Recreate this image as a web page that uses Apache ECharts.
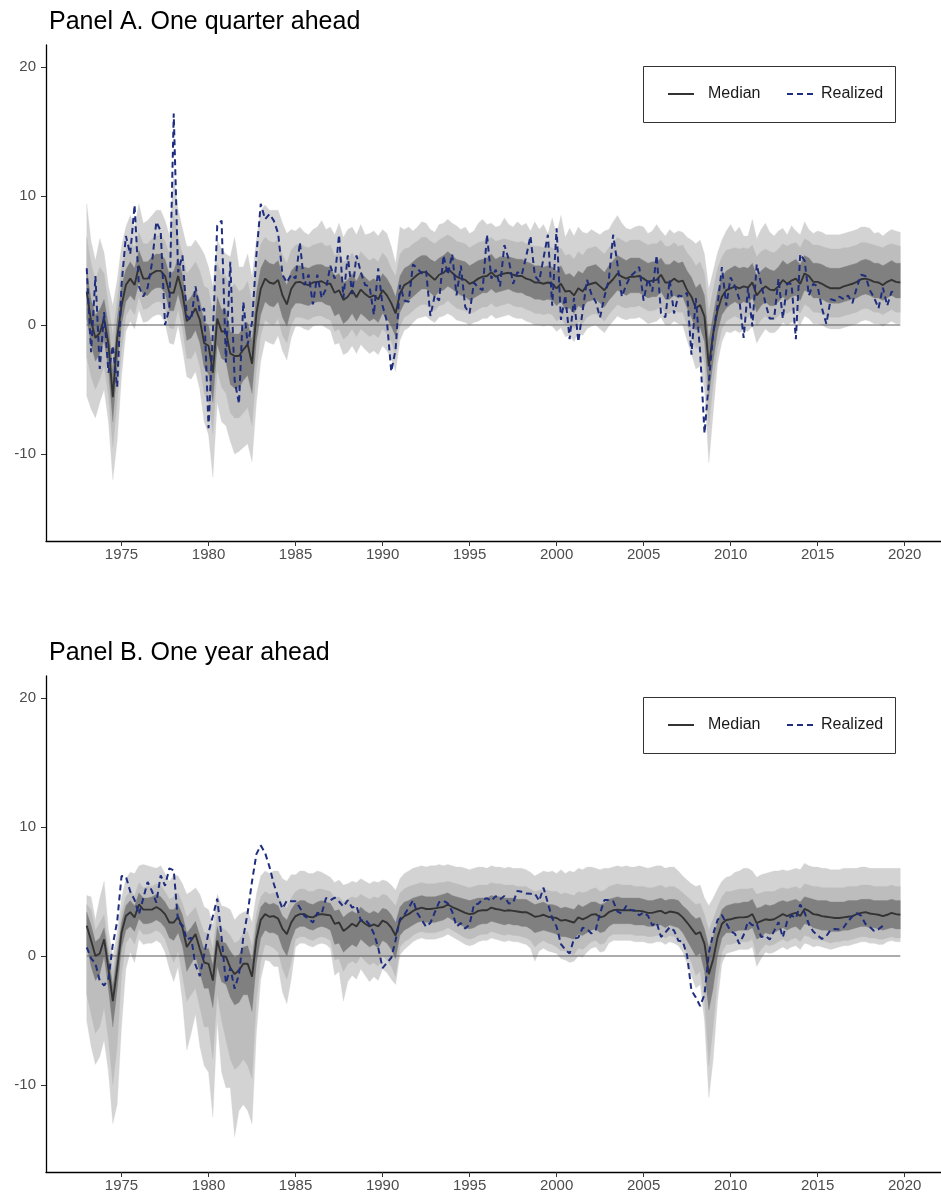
<!DOCTYPE html>
<html><head><meta charset="utf-8">
<script src="https://cdn.jsdelivr.net/npm/echarts@6/dist/echarts.min.js"></script>
<style>html,body{margin:0;padding:0;background:#fff}#c{width:941px;height:1199px}</style>
</head><body><div id="c"></div>
<script>
// ---------- data (quarterly, 1973Q1 .. 2019Q4) ----------
const startYear = 1973;
const nQuarters = 188;
const xTicks = [1975,1980,1985,1990,1995,2000,2005,2010,2015,2020];
const yTicks = [-10,0,10,20];
const zeroLine = [0, 0];

// Panel A: one quarter ahead
const medianA = [2.6,0.3,-1.0,-0.6, 0.5,-1.5,-5.6,-1.0, 1.5,3.1,3.6,3.1, 4.6,3.6,3.6,4.0, 4.2,4.2,3.8,2.5, 2.5,3.8,2.5,0.3, 0.7,1.3,0.4,-1.4, -1.6,-3.7,0.5,-0.5, -0.5,-2.2,-2.4,-2.4, -1.9,-1.5,-3.0,0.9,
 2.8,3.6,3.3,3.2, 3.5,2.3,1.6,2.8, 3.3,3.35,3.2,3.1, 3.3,3.35,3.4,3.2, 3.2,2.5,2.7,1.95, 2.2,2.7,2.15,2.75, 2.4,2.15,2.3,2.0, 2.7,2.3,1.7,0.9, 2.45,3.1,3.3,3.6, 3.9,4.1,4.1,3.8,
 3.5,3.9,4.05,4.4, 4.05,3.75,3.6,3.5, 3.2,3.35,3.6,3.75, 3.8,4.1,3.75,3.9, 4.0,4.05,3.9,3.8, 3.8,3.6,3.5,3.3, 3.3,3.2,3.3,3.2, 2.85,3.2,2.6,2.65, 2.3,2.85,2.6,3.1, 3.2,3.3,3.0,2.7,
 3.2,3.55,4.0,3.75, 3.6,3.75,3.75,3.8, 3.6,3.35,3.45,3.5, 3.9,3.3,3.3,3.6, 3.35,3.45,2.7,2.2, 1.3,1.55,0.65,-3.2, -0.65,1.15,2.2,2.7, 2.85,3.0,2.85,3.0, 2.9,3.3,2.3,2.7, 3.0,2.75,2.7,3.0,
 3.5,3.2,3.45,3.6, 3.2,4.0,3.8,3.35, 3.35,3.2,3.0,2.85, 2.85,2.85,3.0,3.1, 3.2,3.35,3.55,3.6, 3.5,3.35,3.3,3.1, 3.35,3.5,3.35,3.3];
const realizedA = [4.4,-2.1,3.8, -3.4,1.0,-3.7,-1.6, -4.8,3.1,6.9,5.5, 9.3,3.0,2.2,2.9, 4.8,8.0,7.3,0.0, 1.3,16.4,4.1,5.4, 0.7,0.4,3.0,1.0, 1.3,-8.0,-0.5,7.7, 8.1,-2.9,4.9,-4.3, -6.1,1.8,-1.5,0.2,
 5.4,9.4,8.2,8.6, 8.1,7.1,3.9,3.3, 3.9,3.6,6.4,3.1, 3.9,1.6,3.9,2.1, 2.8,4.6,3.6,7.0, 2.1,5.4,2.4,5.4, 4.1,3.1,3.0,0.8, 4.4,1.5,0.3,-3.6, -1.9,3.1,1.9,1.8, 4.7,4.4,4.0,4.2,
 0.7,2.3,1.9,5.4, 3.9,5.5,2.3,4.6, 1.4,0.9,3.3,2.9, 2.7,7.0,3.6,4.3, 3.0,6.2,5.1,3.2, 4.1,3.9,5.3,6.9, 3.8,3.4,5.2,7.0, 1.5,7.5,0.4,2.3, -1.1,2.1,-1.3,1.1, 3.5,2.4,1.8,0.6,
 2.2,3.5,7.0,4.7, 2.2,3.1,3.8,4.1, 4.5,1.9,3.6,2.6, 5.4,0.9,0.6,3.5, 0.9,2.3,2.2,2.5, -2.3,2.1,-2.1,-8.4, -4.4,-0.6,1.5,4.5, 1.5,3.7,3.0,2.0, -1.0,2.9,-0.1,4.7, 3.2,1.7,0.5,0.5,
 3.6,0.5,3.2,3.2, -1.1,5.5,5.0,2.3, 3.2,3.0,1.3,0.1, 2.0,1.9,2.2,2.0, 2.3,1.7,2.9,3.9, 3.8,2.7,2.1,1.3, 2.9,1.5,2.6,2.4];
const outerHiA = [9.4,6.5,5.0,6.7, 5.6,3.0,1.5,3.5, 6.1,7.6,8.5,7.6, 9.4,7.9,8.1,8.5, 8.9,8.9,8.1,7.0, 11.5,9.0,7.5,6.1, 6.1,6.6,6.1,5.5, 4.5,3.0,6.6,5.9, 5.5,5.3,6.8,4.5, 4.5,5.5,3.7,6.6,
 8.9,9.3,8.9,8.9, 8.9,7.9,7.1,7.4, 7.3,7.6,7.2,7.0, 7.4,7.6,8.1,7.4, 7.6,7.0,7.9,6.8, 7.4,7.6,7.0,7.8, 7.0,7.1,7.3,6.9, 7.4,7.1,6.1,4.8, 7.6,7.4,7.6,7.3, 7.6,8.0,7.9,7.4,
 7.2,7.8,7.9,8.2, 7.9,7.7,7.4,7.6, 7.1,7.3,7.9,8.2, 7.8,7.9,7.6,7.7, 8.3,7.8,7.6,8.0, 7.7,7.9,7.3,8.0, 7.4,7.8,7.1,8.3, 7.0,8.5,6.8,7.5, 6.9,7.6,7.2,7.1, 7.4,7.2,7.0,7.3,
 7.4,8.0,8.5,7.9, 7.5,7.4,7.6,7.7, 7.6,7.1,7.3,7.8, 7.3,6.9,7.4,7.1, 7.3,7.2,6.8,6.6, 6.3,6.6,5.5,2.8, 4.2,5.6,6.6,7.3, 7.8,7.2,7.6,6.9, 6.9,8.2,6.7,7.4, 7.9,7.2,6.9,7.3,
 7.5,7.0,7.7,7.3, 7.0,8.0,7.4,7.1, 7.3,7.2,7.0,7.0, 7.0,7.0,7.1,7.2, 7.3,7.4,7.6,7.6, 7.5,7.1,7.2,6.9, 7.2,7.4,7.3,7.2];
const midHiA = [6.8,4.8,3.5,4.5, 4.0,1.5,-0.8,2.0, 4.5,5.8,6.5,6.0, 7.2,6.3,6.3,6.7, 6.9,7.0,6.5,5.5, 8.5,6.8,5.5,4.0, 4.4,4.9,4.2,3.0, 2.8,1.0,4.8,3.9, 3.8,2.8,3.2,2.6, 2.8,3.4,1.8,4.6,
 6.3,6.8,6.5,6.4, 6.6,5.4,4.8,5.8, 6.2,6.3,6.1,6.0, 6.2,6.3,6.4,6.1, 6.2,5.4,5.6,4.9, 5.1,5.6,5.0,5.7, 5.3,5.0,5.2,4.9, 5.6,5.2,4.4,3.8, 5.5,5.9,6.0,6.3, 6.5,6.8,6.8,6.5,
 6.3,6.6,6.8,7.0, 6.8,6.5,6.4,6.3, 6.0,6.2,6.4,6.5, 6.6,6.8,6.5,6.6, 6.7,6.6,6.5,6.4, 6.5,6.3,6.2,6.1, 6.1,6.0,6.1,6.0, 5.7,6.0,5.4,5.5, 5.1,5.7,5.4,5.9, 6.0,6.1,5.8,5.5,
 6.0,6.4,6.8,6.6, 6.4,6.6,6.6,6.6, 6.4,6.2,6.3,6.3, 6.6,6.1,6.1,6.4, 6.1,6.2,5.6,5.2, 4.6,4.9,4.0,1.0, 2.8,4.4,5.3,5.8, 5.9,6.0,5.9,6.0, 5.9,6.2,5.3,5.7, 5.9,5.7,5.6,5.9,
 6.3,6.1,6.3,6.4, 6.0,6.7,6.5,6.2, 6.2,6.1,6.0,5.9, 5.9,5.9,6.0,6.0, 6.1,6.2,6.4,6.4, 6.3,6.2,6.1,6.0, 6.2,6.3,6.2,6.1];
const innerHiA = [4.2,2.0,0.8,1.2, 2.0,0.0,-3.5,0.5, 3.0,4.3,4.9,4.4, 5.8,4.9,4.9,5.3, 5.5,5.5,5.1,3.9, 4.2,5.2,3.9,1.8, 2.2,2.8,1.9,0.2, 0.0,-2.0,2.2,1.2, 1.2,-0.5,-0.7,-0.7, -0.2,0.2,-1.2,2.5,
 4.4,5.1,4.8,4.7, 5.0,3.8,3.1,4.2, 4.6,4.6,4.5,4.4, 4.6,4.7,4.7,4.5, 4.5,3.8,4.0,3.3, 3.5,4.0,3.4,4.1, 3.7,3.4,3.6,3.3, 4.0,3.6,3.0,2.2, 3.8,4.4,4.6,4.9, 5.2,5.4,5.4,5.1,
 4.9,5.2,5.4,5.7, 5.4,5.1,5.0,4.9, 4.6,4.8,5.0,5.1, 5.2,5.5,5.1,5.3, 5.3,5.3,5.2,5.1, 5.1,4.9,4.8,4.6, 4.6,4.5,4.6,4.5, 4.2,4.6,3.9,4.0, 3.7,4.2,4.0,4.5, 4.6,4.7,4.4,4.1,
 4.6,5.0,5.4,5.2, 5.0,5.2,5.2,5.2, 5.0,4.8,4.9,4.9, 5.2,4.7,4.7,5.0, 4.8,4.9,4.2,3.7, 2.9,3.2,2.3,-1.2, 0.8,2.6,3.7,4.2, 4.4,4.6,4.4,4.5, 4.4,4.8,3.8,4.2, 4.5,4.3,4.2,4.5,
 5.0,4.7,4.9,5.1, 4.7,5.4,5.2,4.8, 4.8,4.7,4.5,4.4, 4.4,4.4,4.5,4.6, 4.7,4.8,5.0,5.1, 5.0,4.8,4.8,4.6, 4.8,5.0,4.8,4.8];
const innerLoA = [0.5,-1.5,-2.8,-2.2, -1.2,-3.5,-7.5,-3.2, 0.0,1.8,2.3,1.9, 3.3,2.3,2.3,2.7, 2.9,2.9,2.5,1.1, 1.1,2.4,1.1,-1.2, -1.0,-0.4,-1.4,-3.3, -3.8,-6.0,-1.5,-2.6, -2.8,-4.6,-4.9,-4.9, -4.3,-3.9,-5.3,-1.3,
 0.8,1.8,1.5,1.4, 1.8,0.6,-0.1,1.2, 1.7,1.7,1.6,1.5, 1.7,1.8,1.8,1.6, 1.5,0.7,0.9,0.1, 0.4,0.9,0.3,0.9, 0.6,0.3,0.5,0.2, 0.9,0.5,-0.1,-0.9, 1.0,1.7,1.9,2.2, 2.5,2.8,2.8,2.5,
 2.2,2.6,2.7,3.0, 2.8,2.5,2.3,2.2, 1.9,2.1,2.3,2.5, 2.5,2.8,2.5,2.6, 2.7,2.8,2.6,2.5, 2.5,2.3,2.2,2.0, 2.0,1.9,2.0,1.9, 1.5,1.8,1.2,1.3, 0.9,1.5,1.3,1.8, 1.9,2.0,1.7,1.4,
 1.9,2.3,2.7,2.5, 2.3,2.5,2.5,2.5, 2.3,2.1,2.2,2.2, 2.6,2.0,2.0,2.3, 2.1,2.2,1.3,0.6, -0.4,-0.2,-1.3,-5.5, -2.8,-0.5,0.8,1.3, 1.6,1.8,1.6,1.8, 1.7,2.1,1.0,1.5, 1.8,1.5,1.5,1.8,
 2.2,1.9,2.2,2.3, 1.9,2.7,2.5,2.1, 2.1,2.0,1.8,1.7, 1.7,1.7,1.8,1.9, 2.0,2.1,2.3,2.4, 2.3,2.1,2.1,1.9, 2.1,2.3,2.1,2.1];
const midLoA = [-2.5,-4.0,-5.0,-4.2, -3.2,-5.5,-9.5,-6.0, -2.0,0.7,1.3,0.8, 2.2,1.2,1.3,1.6, 1.8,1.8,1.3,-0.2, -0.3,1.2,-0.3,-2.6, -2.6,-2.0,-3.2,-5.3, -6.0,-8.4,-3.5,-4.8, -5.3,-6.8,-7.2,-7.2, -6.8,-6.4,-7.8,-3.5,
 -0.8,0.4,0.1,0.0, 0.5,-0.8,-1.4,0.0, 0.6,0.6,0.5,0.4, 0.6,0.7,0.7,0.5, 0.4,-0.5,-0.3,-1.1, -0.8,-0.3,-0.9,-0.3, -0.6,-0.9,-0.7,-1.0, -0.3,-0.7,-1.3,-2.2, -0.1,0.6,0.8,1.1, 1.4,1.6,1.6,1.3,
 1.1,1.5,1.6,1.9, 1.6,1.3,1.2,1.1, 0.9,1.0,1.2,1.4, 1.4,1.7,1.4,1.5, 1.6,1.7,1.5,1.4, 1.4,1.2,1.1,0.9, 0.9,0.8,0.9,0.8, 0.3,0.6,0.0,0.1, -0.3,0.3,0.1,0.6, 0.8,0.9,0.6,0.3,
 0.8,1.2,1.6,1.4, 1.3,1.4,1.4,1.5, 1.3,1.1,1.1,1.2, 1.5,0.9,0.9,1.2, 1.0,1.0,0.0,-0.8, -1.8,-1.6,-3.0,-7.8, -4.6,-1.8,-0.3,0.3, 0.5,0.7,0.5,0.7, 0.6,1.0,-0.1,0.4, 0.7,0.4,0.4,0.7,
 1.1,0.9,1.1,1.2, 0.9,1.6,1.4,1.0, 1.0,0.9,0.7,0.6, 0.6,0.6,0.7,0.8, 0.9,1.0,1.2,1.3, 1.2,1.0,1.0,0.8, 1.0,1.2,1.0,1.0];
const outerLoA = [-5.5,-6.5,-7.2,-6.0, -5.0,-7.5,-12.0,-9.0, -4.0,-0.5,0.3,-0.3, 1.2,0.2,0.3,0.6, 0.8,0.8,0.2,-1.4, -1.5,0.0,-1.8,-4.0, -4.2,-3.6,-5.0,-7.5, -8.5,-11.8,-6.0,-7.5, -7.8,-9.0,-10.0,-9.8, -9.5,-9.2,-10.6,-6.0,
 -2.8,-1.2,-1.4,-1.5, -0.8,-2.0,-2.7,-1.0, -0.1,-0.1,-0.3,-0.4, -0.1,0.0,0.0,-0.2, -0.4,-1.5,-1.4,-2.3, -2.1,-1.6,-2.2,-1.5, -1.9,-2.2,-2.0,-2.3, -1.6,-2.0,-2.6,-3.6, -1.2,-0.4,-0.2,0.2, 0.5,0.6,0.7,0.4,
 0.2,0.6,0.7,0.9, 0.7,0.4,0.3,0.2, 0.0,0.2,0.3,0.5, 0.5,0.8,0.5,0.6, 0.7,0.8,0.6,0.5, 0.5,0.3,0.2,0.0, 0.0,-0.1,0.0,-0.1, -0.5,-0.2,-0.9,-0.8, -1.3,-0.6,-0.8,-0.3, -0.1,0.0,-0.3,-0.6,
 -0.1,0.3,0.7,0.5, 0.4,0.5,0.5,0.6, 0.4,0.1,0.2,0.3, 0.6,0.0,0.0,0.3, 0.1,0.0,-1.2,-2.2, -3.4,-3.2,-5.0,-10.7, -6.8,-3.0,-1.3,-0.5, -0.6,-0.4,-0.6,-0.4, -0.5,-0.1,-1.4,-0.8, -0.3,-0.6,-0.6,-0.3,
 0.2,0.0,0.2,0.3, 0.0,0.7,0.5,0.1, 0.1,0.0,-0.2,-0.3, -0.3,-0.3,-0.2,-0.1, 0.0,0.1,0.3,0.4, 0.3,0.1,0.1,-0.1, 0.1,0.3,0.1,0.1];

// Panel B: one year ahead
const medianB = [2.35,1.2,0.0,0.2, 1.3,-1.0,-3.5,-1.0, 1.8,3.1,3.4,3.0, 4.0,3.6,3.6,3.6, 3.8,3.6,3.25,2.6, 2.6,3.05,2.2,0.7, 1.2,1.7,0.55,-0.5, -0.6,-1.9,1.2,0.0, -0.05,-0.9,-1.4,-1.1, -0.6,-0.6,-1.6,1.3,
 2.8,3.25,3.05,3.1, 2.9,2.1,1.7,2.6, 3.1,3.25,3.25,3.05, 3.0,3.2,3.25,3.2, 3.15,2.5,2.6,1.95, 2.2,2.5,2.3,2.8, 2.5,2.3,2.45,2.3, 2.75,2.6,2.2,1.6, 2.75,3.1,3.25,3.5, 3.65,3.75,3.65,3.65,
 3.7,3.75,3.8,4.0, 3.8,3.65,3.5,3.35, 3.25,3.3,3.5,3.55, 3.55,3.75,3.65,3.6, 3.5,3.55,3.5,3.45, 3.4,3.4,3.25,3.05, 3.1,3.2,3.05,3.0, 2.95,2.75,2.8,2.7, 2.6,3.0,2.85,3.0, 3.2,3.25,3.0,3.1,
 3.4,3.55,3.6,3.55, 3.55,3.55,3.5,3.5, 3.45,3.35,3.35,3.45, 3.5,3.3,3.45,3.4, 3.3,3.0,2.6,2.15, 1.7,1.85,0.95,-1.4, -0.25,1.45,2.5,2.8, 2.85,2.95,3.0,3.0, 3.05,3.25,2.55,2.7, 2.85,2.8,2.85,3.05,
 3.25,3.1,3.25,3.35, 3.1,3.65,3.5,3.25, 3.2,3.1,3.05,3.0, 2.95,2.95,3.0,3.05, 3.1,3.25,3.35,3.4, 3.3,3.25,3.2,3.1, 3.2,3.35,3.25,3.2];
const realizedB = [0.68,-0.18,-0.58,-1.93, -2.28,-1.75,0.9,2.68, 6.2,6.18,5.0,4.35, 3.23,4.48,5.75,5.03, 4.15,6.25,5.45,6.8, 6.65,2.65,2.38,1.28, 1.43,-0.68,-1.55,0.13, 1.83,3.1,4.45,1.45, -2.1,-0.93,-2.53,-1.4, 1.48,3.38,5.8,7.9,
 8.58,8.0,6.93,5.6, 4.55,3.68,4.3,4.25, 4.25,3.75,3.13,2.88, 2.6,3.35,3.28,4.5, 4.33,4.53,4.23,3.83, 4.33,3.75,3.9,2.75, 2.83,2.43,1.75,0.65, -0.93,-0.53,-0.13,1.23, 2.88,3.2,3.73,4.33, 3.33,2.8,2.28,2.58,
 3.38,4.18,4.28,4.08, 3.45,2.3,2.55,2.13, 2.45,3.98,4.05,4.4, 4.48,4.28,4.65,4.38, 4.65,4.08,4.13,5.05, 4.98,4.85,4.83,4.85, 4.28,5.3,4.1,2.93, 2.28,0.93,0.5,0.2, 1.35,1.43,2.2,2.08, 1.75,2.03,3.33,4.35,
 4.35,4.25,3.45,3.3, 3.88,3.58,3.53,3.15, 3.38,3.13,2.38,2.6, 1.48,1.83,2.23,1.98, 1.18,1.13,0.05,-2.68, -3.2,-3.88,-2.98,0.25, 1.73,2.8,3.18,2.55, 1.93,1.73,0.95,1.63, 2.68,2.38,2.53,1.48,
 1.58,1.28,1.95,2.63, 1.45,2.7,3.15,2.93, 4.0,3.38,2.45,1.9, 1.6,1.33,1.55,2.03, 2.1,2.05,2.23,2.7, 3.08,3.33,3.13,2.48, 2.25,1.95,2.08,2.35];
const outerHiB = [4.7,4.6,2.8,4.5, 5.8,2.0,0.0,1.8, 4.5,6.0,6.5,6.4, 7.0,7.1,7.0,6.9, 6.8,7.0,6.4,5.8, 6.3,6.2,5.6,4.8, 5.0,5.3,4.8,3.8, 3.6,2.4,4.8,3.9, 3.8,3.6,2.8,3.2, 3.4,3.5,2.6,4.8,
 6.2,6.6,6.4,6.6, 6.6,6.0,5.8,6.3, 6.3,6.6,6.6,6.4, 6.4,6.6,6.5,6.3, 6.1,5.7,5.9,5.5, 5.6,5.8,5.7,6.0, 5.8,5.6,5.8,5.7, 5.9,5.8,5.5,5.1, 6.0,6.4,6.6,6.8, 6.9,7.0,6.9,7.0,
 7.0,7.1,7.0,7.1, 7.0,6.9,6.9,6.8, 6.7,6.8,6.9,6.9, 6.8,7.0,6.9,6.9, 6.8,6.9,6.8,6.8, 6.8,6.7,6.5,6.2, 6.4,6.6,6.5,6.6, 6.4,6.7,6.4,6.6, 6.5,6.8,6.7,6.9, 6.9,6.8,6.7,6.8,
 6.8,6.9,7.0,6.9, 7.0,6.9,6.9,7.0, 6.9,6.8,6.9,7.0, 7.0,6.8,6.9,6.9, 6.6,6.2,5.9,5.6, 5.4,5.5,4.5,3.9, 4.5,5.2,5.8,6.1, 6.2,6.5,6.6,6.8, 6.8,6.6,6.1,6.3, 6.4,6.5,6.6,6.6,
 6.7,6.6,6.7,6.8, 6.7,7.2,7.0,6.9, 6.9,6.8,6.8,6.7, 6.7,6.7,6.8,6.8, 6.8,6.8,6.9,6.9, 6.8,6.8,6.8,6.8, 6.8,6.8,6.8,6.8];
const midHiB = [4.0,3.6,2.0,2.6, 3.2,0.8,-1.2,0.8, 3.3,4.6,5.0,4.7, 5.7,5.3,5.4,5.4, 5.6,5.5,5.0,4.4, 4.6,4.9,4.1,3.0, 3.4,3.8,2.8,1.8, 1.8,0.6,3.3,2.2, 2.0,1.6,1.0,1.2, 1.8,1.9,0.8,3.3,
 4.6,5.0,4.8,4.9, 4.7,4.0,3.7,4.5, 5.0,5.2,5.2,5.0, 5.0,5.2,5.2,5.1, 5.0,4.5,4.6,4.2, 4.4,4.6,4.5,4.8, 4.6,4.4,4.6,4.5, 4.8,4.7,4.3,3.9, 4.9,5.2,5.4,5.5, 5.6,5.7,5.6,5.6,
 5.6,5.7,5.7,5.8, 5.7,5.6,5.5,5.4, 5.3,5.4,5.5,5.5, 5.5,5.7,5.6,5.6, 5.5,5.5,5.5,5.4, 5.4,5.4,5.2,5.0, 5.1,5.2,5.1,5.0, 5.0,4.8,4.9,4.8, 4.7,5.0,4.9,5.0, 5.2,5.3,5.0,5.1,
 5.4,5.5,5.6,5.5, 5.5,5.5,5.4,5.4, 5.4,5.3,5.3,5.4, 5.5,5.3,5.4,5.4, 5.2,4.9,4.6,4.3, 4.0,4.1,3.2,2.0, 2.9,3.8,4.6,5.0, 5.0,5.1,5.2,5.2, 5.2,5.3,4.8,4.9, 5.0,5.0,5.0,5.2,
 5.3,5.2,5.3,5.4, 5.2,5.6,5.5,5.4, 5.4,5.3,5.3,5.3, 5.3,5.3,5.3,5.4, 5.4,5.4,5.5,5.5, 5.5,5.4,5.4,5.4, 5.4,5.5,5.4,5.4];
const innerHiB = [3.4,2.4,1.1,1.4, 2.2,0.0,-2.3,0.2, 2.6,3.9,4.3,3.9, 4.9,4.5,4.5,4.6, 4.8,4.6,4.2,3.6, 3.6,4.0,3.2,1.8, 2.2,2.7,1.6,0.5, 0.6,-0.7,2.3,1.1, 1.0,0.4,-0.1,0.1, 0.7,0.8,-0.3,2.4,
 3.8,4.2,4.0,4.1, 3.9,3.1,2.8,3.6, 4.1,4.3,4.3,4.1, 4.0,4.2,4.3,4.2, 4.1,3.5,3.6,3.0, 3.3,3.5,3.3,3.8, 3.5,3.3,3.5,3.3, 3.7,3.6,3.2,2.6, 3.8,4.2,4.3,4.5, 4.6,4.7,4.6,4.6,
 4.6,4.7,4.8,4.9, 4.7,4.6,4.5,4.4, 4.3,4.4,4.5,4.5, 4.5,4.7,4.6,4.6, 4.5,4.5,4.5,4.4, 4.4,4.4,4.2,4.0, 4.1,4.2,4.0,4.0, 3.9,3.7,3.8,3.7, 3.6,4.0,3.8,4.0, 4.2,4.2,4.0,4.1,
 4.4,4.5,4.6,4.5, 4.5,4.5,4.5,4.5, 4.4,4.3,4.3,4.4, 4.5,4.3,4.4,4.4, 4.3,3.9,3.6,3.2, 2.9,3.0,2.1,0.7, 1.5,2.6,3.6,3.9, 4.0,4.1,4.1,4.2, 4.2,4.4,3.7,3.8, 4.0,3.9,4.0,4.2,
 4.3,4.2,4.3,4.4, 4.2,4.6,4.5,4.4, 4.3,4.3,4.3,4.2, 4.2,4.2,4.2,4.3, 4.3,4.3,4.4,4.4, 4.4,4.3,4.3,4.3, 4.3,4.4,4.3,4.3];
const innerLoB = [0.8,-0.8,-1.9,-1.4, 0.0,-2.6,-5.5,-2.6, 0.6,2.0,2.3,1.9, 2.9,2.5,2.5,2.6, 2.8,2.6,2.2,1.4, 1.2,1.8,0.8,-1.2, -0.6,0.0,-1.3,-2.5, -2.5,-4.0,-0.8,-2.0, -2.2,-3.2,-3.8,-3.6, -3.0,-3.0,-4.3,-0.6,
 1.4,2.0,1.8,1.8, 1.6,0.6,0.0,1.2, 2.1,2.3,2.3,2.1, 2.0,2.2,2.3,2.2, 2.0,0.9,1.0,0.3, 0.6,0.9,0.7,1.3, 1.0,0.7,0.9,0.6, 1.2,1.0,0.5,-0.2, 1.6,2.0,2.2,2.4, 2.6,2.7,2.6,2.6,
 2.6,2.7,2.8,3.0, 2.8,2.6,2.4,2.2, 2.1,2.2,2.4,2.5, 2.5,2.7,2.6,2.5, 2.4,2.5,2.4,2.4, 2.3,2.3,2.1,1.8, 1.9,2.0,1.9,1.8, 1.7,1.5,1.5,1.4, 1.3,1.7,1.6,1.8, 2.0,2.1,1.8,1.9,
 2.3,2.5,2.5,2.5, 2.5,2.5,2.4,2.4, 2.4,2.3,2.3,2.4, 2.4,2.2,2.4,2.3, 2.2,1.8,1.2,0.6, 0.0,0.2,-1.2,-4.2, -2.5,0.0,1.4,1.8, 1.8,1.9,2.0,2.0, 2.0,2.2,1.3,1.5, 1.8,1.7,1.8,2.0,
 2.2,2.0,2.2,2.3, 2.0,2.5,2.4,2.2, 2.1,2.0,2.0,1.9, 1.9,1.9,2.0,2.0, 2.1,2.2,2.3,2.3, 2.2,2.2,2.1,2.0, 2.1,2.2,2.1,2.1];
const midLoB = [-3.0,-4.5,-6.0,-5.5, -4.0,-6.5,-10.0,-7.0, -1.5,1.0,1.5,0.9, 2.1,1.7,1.7,1.8, 2.0,1.8,1.3,0.3, -0.5,0.4,-1.5,-3.5, -3.0,-2.5,-4.0,-5.5, -5.5,-8.0,-3.0,-5.0, -6.5,-8.0,-8.8,-8.5, -8.0,-8.5,-9.5,-3.5,
 -0.4,0.9,0.8,0.6, 0.3,-1.0,-1.8,-0.5, 1.3,1.5,1.5,1.3, 1.2,1.4,1.5,1.4, 1.2,-0.3,-0.2,-1.2, -0.6,-0.4,-0.6,0.0, -0.4,-0.7,-0.5,-0.8, 0.0,-0.3,-0.8,-1.6, 0.7,1.1,1.3,1.6, 1.8,1.9,1.8,1.8,
 1.8,1.9,2.0,2.2, 2.0,1.8,1.6,1.4, 1.3,1.4,1.6,1.7, 1.7,1.9,1.8,1.7, 1.6,1.7,1.6,1.6, 1.5,1.4,1.2,0.7, 1.0,1.2,1.0,0.9, 0.7,0.4,0.4,0.2, 0.1,0.6,0.5,0.8, 1.1,1.2,0.9,1.0,
 1.5,1.7,1.7,1.7, 1.7,1.7,1.6,1.6, 1.6,1.5,1.5,1.6, 1.6,1.4,1.6,1.5, 1.3,0.9,0.2,-0.5, -1.5,-1.2,-3.5,-8.5, -5.5,-1.8,0.3,0.9, 0.9,1.0,1.1,1.1, 1.1,1.3,0.0,0.5, 0.9,0.8,0.9,1.1,
 1.3,1.1,1.3,1.4, 1.1,1.6,1.5,1.3, 1.3,1.2,1.1,1.0, 1.1,1.1,1.2,1.2, 1.3,1.4,1.5,1.5, 1.4,1.4,1.3,1.3, 1.4,1.5,1.4,1.4];
const outerLoB = [-5.0,-7.0,-8.4,-7.8, -6.5,-9.0,-13.0,-11.5, -5.5,-1.0,0.3,-0.5, 1.3,0.9,1.0,1.0, 1.2,1.0,0.3,-1.0, -2.0,-0.8,-3.5,-7.3, -6.0,-4.5,-7.0,-8.5, -9.0,-12.5,-5.0,-9.0, -10.2,-10.2,-14.0,-12.0, -11.5,-12.0,-13.0,-6.0,
 -1.8,-0.3,-0.4,-0.8, -0.8,-2.8,-3.7,-1.8, 0.7,1.0,1.0,0.8, 0.7,0.9,1.0,0.9, 0.6,-1.5,-1.2,-3.5, -2.0,-1.5,-1.8,-1.0, -1.5,-2.0,-1.6,-1.9, -1.0,-1.3,-1.8,-2.2, 0.1,0.5,0.8,1.1, 1.3,1.4,1.3,1.3,
 1.3,1.4,1.5,1.7, 1.5,1.3,1.1,0.9, 0.8,0.9,1.1,1.2, 1.2,1.4,1.3,1.2, 1.1,1.2,1.1,1.1, 1.0,0.9,0.6,-0.4, 0.4,0.6,0.4,0.3, 0.2,-0.2,-0.3,-0.5, -0.4,0.0,-0.1,0.3, 0.6,0.7,0.3,0.4,
 1.0,1.2,1.2,1.2, 1.2,1.2,1.1,1.1, 1.1,1.0,1.0,1.1, 1.1,0.9,1.1,1.0, 0.8,0.3,-0.6,-1.5, -2.5,-2.2,-5.0,-11.0, -8.0,-3.5,-0.6,0.2, 0.3,0.4,0.5,0.5, 0.5,0.7,-0.8,-0.2, 0.3,0.2,0.3,0.5,
 0.7,0.5,0.7,0.8, 0.5,1.0,0.9,0.7, 0.8,0.7,0.6,0.5, 0.6,0.7,0.8,0.8, 0.9,1.0,1.1,1.1, 1.0,1.0,0.9,0.9, 1.1,1.2,1.1,1.1];

// ---------- build chart ----------
const quarters = Array.from({length: nQuarters}, (_, i) => startYear + i / 4);
const pairs = arr => arr.map((v, i) => [quarters[i], v]);

const LIGHT = '#d3d3d3', MID = '#bdbdbd', DARK = '#808080';
const NAVY = '#1e2d7d', MEDIAN = '#333333';
const FONT = '"Liberation Sans", Arial, Helvetica, sans-serif';

// ribbon between lo and hi, positioned through the axes' own scales (api.coord)
function band(g, lo, hi, color) {
  const data = quarters.map((q, i) => [q, lo[i], hi[i]]);
  return {
    type: 'custom', xAxisIndex: g, yAxisIndex: g, silent: true, clip: true,
    data: data,
    encode: {x: 0, y: [1, 2]},
    renderItem: function (params, api) {
      if (params.dataIndex !== 0) return null;
      const top = [], bot = [];
      for (let i = 0; i < data.length; i++) {
        top.push(api.coord([data[i][0], data[i][2]]));
        bot.push(api.coord([data[i][0], data[i][1]]));
      }
      return {type: 'polygon', shape: {points: top.concat(bot.reverse())},
              style: {fill: color, stroke: color, lineWidth: 0.3}};
    }
  };
}
function panelSeries(g, d) {
  const zeroData = [[quarters[0], zeroLine[0]], [quarters[nQuarters - 1], zeroLine[1]]];
  return [
    band(g, d.oLo, d.oHi, LIGHT),
    band(g, d.mLo, d.mHi, MID),
    band(g, d.iLo, d.iHi, DARK),
    {type: 'line', xAxisIndex: g, yAxisIndex: g, data: zeroData, symbol: 'none', silent: true,
     lineStyle: {color: 'rgba(90,90,90,0.5)', width: 2}},
    {type: 'line', name: 'Median', xAxisIndex: g, yAxisIndex: g, data: pairs(d.med), symbol: 'none', silent: true,
     lineStyle: {color: MEDIAN, width: 1.9}},
    {type: 'line', name: 'Realized', xAxisIndex: g, yAxisIndex: g, data: pairs(d.real), symbol: 'none', silent: true,
     lineStyle: {color: NAVY, width: 2, type: [6, 4]}}
  ];
}

const gridTops = [45, 676];
const GRID_H = 496;
function xAxis(g) {
  return {gridIndex: g, type: 'value', min: 1970.66, max: 2022.09,
    axisLine: {show: true, onZero: false, lineStyle: {color: '#000', width: 1.3}},
    axisTick: {show: true, customValues: xTicks, length: 5, lineStyle: {color: '#333', width: 1}},
    axisLabel: {customValues: xTicks, formatter: v => String(v), color: '#4d4d4d', fontSize: 15, fontFamily: FONT, margin: 6},
    splitLine: {show: false}};
}
function yAxis(g) {
  return {gridIndex: g, type: 'value', min: -16.74, max: 21.71,
    axisLine: {show: true, onZero: false, lineStyle: {color: '#000', width: 1.3}},
    axisTick: {show: true, customValues: yTicks, length: 5, lineStyle: {color: '#333', width: 1}},
    axisLabel: {customValues: yTicks, formatter: v => String(v), color: '#4d4d4d', fontSize: 15, fontFamily: FONT, margin: 10},
    splitLine: {show: false}};
}
function legendGraphic(top) {
  const cy = top + 28;
  return [
    {type: 'rect', shape: {x: 643.5, y: top + 0.5, width: 252, height: 56}, style: {fill: '#fff', stroke: '#333', lineWidth: 1}, z: 100},
    {type: 'line', shape: {x1: 668, y1: cy, x2: 694, y2: cy}, style: {stroke: MEDIAN, lineWidth: 2}, z: 101},
    {type: 'text', x: 708, y: cy, style: {text: 'Median', font: '16px ' + FONT, fill: '#1a1a1a', textVerticalAlign: 'middle'}, z: 101},
    {type: 'line', shape: {x1: 787, y1: cy, x2: 813, y2: cy}, style: {stroke: NAVY, lineWidth: 2, lineDash: [6, 4]}, z: 101},
    {type: 'text', x: 821, y: cy, style: {text: 'Realized', font: '16px ' + FONT, fill: '#1a1a1a', textVerticalAlign: 'middle'}, z: 101}
  ];
}

const panelA = {med: medianA, real: realizedA, oHi: outerHiA, mHi: midHiA, iHi: innerHiA, iLo: innerLoA, mLo: midLoA, oLo: outerLoA};
const panelB = {med: medianB, real: realizedB, oHi: outerHiB, mHi: midHiB, iHi: innerHiB, iLo: innerLoB, mLo: midLoB, oLo: outerLoB};

const chart = echarts.init(document.getElementById('c'), null, {renderer: 'canvas'});
chart.setOption({
  animation: false,
  backgroundColor: '#fff',
  title: [
    {text: 'Panel A. One quarter ahead', left: 44, top: 5, textStyle: {fontSize: 25, fontWeight: 'normal', color: '#000', fontFamily: FONT}},
    {text: 'Panel B. One year ahead', left: 44, top: 636, textStyle: {fontSize: 25, fontWeight: 'normal', color: '#000', fontFamily: FONT}}
  ],
  grid: gridTops.map(t => ({left: 46, top: t, width: 904, height: GRID_H, containLabel: false})),
  xAxis: [xAxis(0), xAxis(1)],
  yAxis: [yAxis(0), yAxis(1)],
  series: panelSeries(0, panelA).concat(panelSeries(1, panelB)),
  graphic: legendGraphic(66).concat(legendGraphic(697))
});
</script>
</body></html>
